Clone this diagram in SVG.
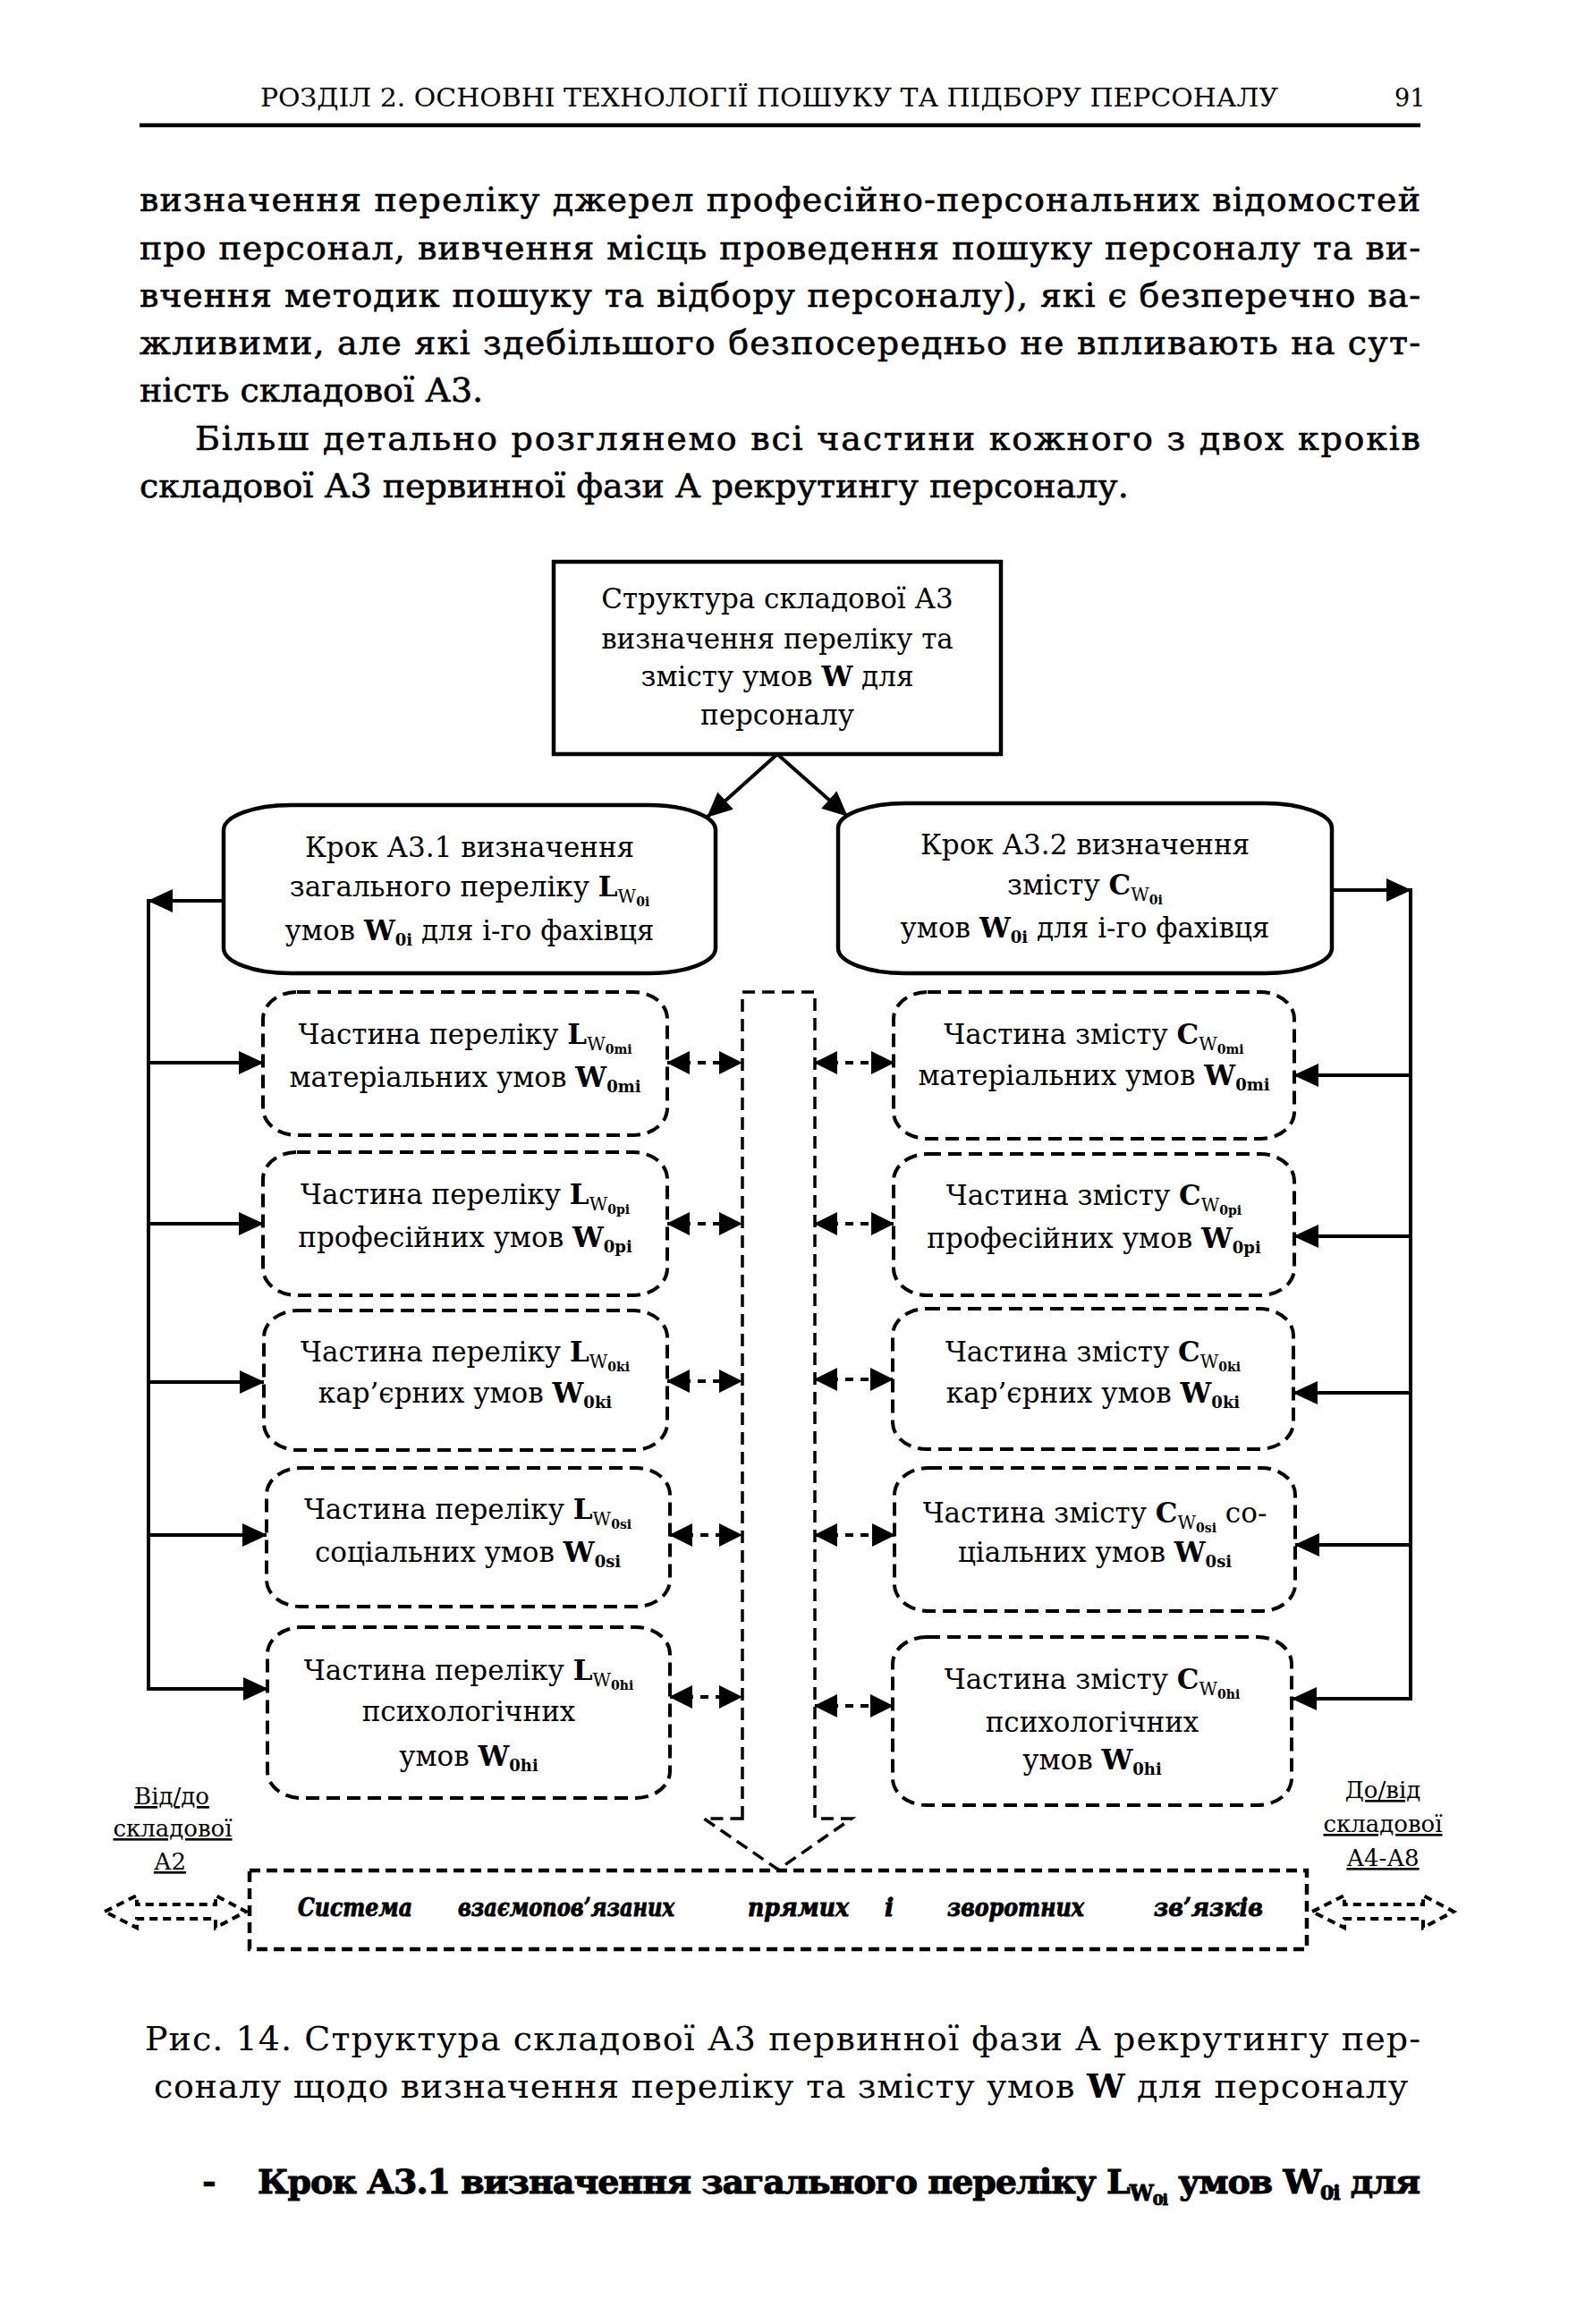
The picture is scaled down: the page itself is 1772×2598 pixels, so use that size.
<svg xmlns="http://www.w3.org/2000/svg" width="1772" height="2598" viewBox="0 0 1772 2598">
<defs>
<style>
.t{font-family:"DejaVu Serif","Liberation Serif",serif;fill:#000}
.body{font-size:38px;stroke:#000;stroke-width:0.6}
.hdr{font-size:27px}
.d{font-size:31px}
.cap{font-size:38px}
.b{font-weight:bold}
.lbl{font-size:26px;text-decoration:underline}
.bi{font-size:27px;font-weight:bold;font-style:italic;stroke:#000;stroke-width:0.9}
.solid{fill:#fff;stroke:#000;stroke-width:4.5}
.dash{fill:#fff;stroke:#000;stroke-width:4;stroke-dasharray:15,8}
.conn{fill:none;stroke:#000;stroke-width:4}
.dconn{fill:none;stroke:#000;stroke-width:4;stroke-dasharray:9,8}
.shaft{fill:none;stroke:#000;stroke-width:3.5;stroke-dasharray:14,8}
.bdash{fill:none;stroke:#000;stroke-width:4.5;stroke-dasharray:12,7}
.sdash{fill:none;stroke:#000;stroke-width:4;stroke-dasharray:9,6}
</style>
<marker id="ah" viewBox="0 0 28 26" refX="27" refY="13" markerWidth="28" markerHeight="26" markerUnits="userSpaceOnUse" orient="auto-start-reverse">
<path d="M0,0 L28,13 L0,26 z" fill="#000"/>
</marker>
<marker id="ah2" viewBox="0 0 26 26" refX="25" refY="13" markerWidth="26" markerHeight="26" markerUnits="userSpaceOnUse" orient="auto-start-reverse">
<path d="M0,0 L26,13 L0,26 z" fill="#000"/>
</marker>
</defs>
<rect width="1772" height="2598" fill="#fff"/>

<g id="page-text">
<text class="t hdr" x="291" y="119" textLength="1138" lengthAdjust="spacingAndGlyphs">РОЗДІЛ 2. ОСНОВНІ ТЕХНОЛОГІЇ ПОШУКУ ТА ПІДБОРУ ПЕРСОНАЛУ</text>
<text class="t hdr" x="1559" y="119">91</text>
<line x1="156" y1="140" x2="1588" y2="140" stroke="#000" stroke-width="4.5"/>
<text class="t body" x="156" y="236" textLength="1432" lengthAdjust="spacing">визначення переліку джерел професійно-персональних відомостей</text>
<text class="t body" x="156" y="290" textLength="1432" lengthAdjust="spacing">про персонал, вивчення місць проведення пошуку персоналу та ви-</text>
<text class="t body" x="156" y="343" textLength="1432" lengthAdjust="spacing">вчення методик пошуку та відбору персоналу), які є безперечно ва-</text>
<text class="t body" x="156" y="396" textLength="1432" lengthAdjust="spacing">жливими, але які здебільшого безпосередньо не впливають на сут-</text>
<text class="t body" x="156" y="449">ність складової А3.</text>
<text class="t body" x="218" y="503" textLength="1370" lengthAdjust="spacing">Більш детально розглянемо всі частини кожного з двох кроків</text>
<text class="t body" x="156" y="556">складової А3 первинної фази А рекрутингу персоналу.</text>
<text class="t cap" x="162" y="2292" textLength="1426" lengthAdjust="spacing">Рис. 14. Структура складової А3 первинної фази А рекрутингу пер-</text>
<text class="t cap" x="172" y="2345" textLength="1402" lengthAdjust="spacing">соналу щодо визначення переліку та змісту умов <tspan class="b">W</tspan> для персоналу</text>
<text class="t body b" x="226" y="2452">-</text>
<text class="t body b" x="288" y="2452" textLength="1300" lengthAdjust="spacing" style="stroke-width:1">Крок А3.1 визначення загального переліку L<tspan font-size="24" dy="8">W</tspan><tspan font-size="17" dy="5">0i</tspan><tspan dy="-13"> умов W</tspan><tspan font-size="22" dy="7">0i</tspan><tspan dy="-7"> для</tspan></text>
</g>

<g id="connectors">
<line class="conn" x1="869" y1="843" x2="791" y2="913" marker-end="url(#ah)"/>
<line class="conn" x1="869" y1="843" x2="947" y2="912" marker-end="url(#ah)"/>
<polyline class="conn" points="250,1007 166,1007" marker-end="url(#ah)"/>
<line class="conn" x1="166" y1="1005" x2="166" y2="1890"/>
<line class="conn" x1="166" y1="1188" x2="294" y2="1188" marker-end="url(#ah)"/>
<line class="conn" x1="166" y1="1368" x2="294" y2="1368" marker-end="url(#ah)"/>
<line class="conn" x1="166" y1="1545" x2="295" y2="1545" marker-end="url(#ah)"/>
<line class="conn" x1="166" y1="1716" x2="298" y2="1716" marker-end="url(#ah)"/>
<line class="conn" x1="166" y1="1888" x2="299" y2="1888" marker-end="url(#ah)"/>
<line class="conn" x1="1490" y1="995" x2="1577" y2="995" marker-end="url(#ah)"/>
<line class="conn" x1="1577" y1="993" x2="1577" y2="1901"/>
<line class="conn" x1="1577" y1="1202" x2="1447" y2="1202" marker-end="url(#ah)"/>
<line class="conn" x1="1577" y1="1382" x2="1447" y2="1382" marker-end="url(#ah)"/>
<line class="conn" x1="1577" y1="1557" x2="1446" y2="1557" marker-end="url(#ah)"/>
<line class="conn" x1="1577" y1="1727" x2="1448" y2="1727" marker-end="url(#ah)"/>
<line class="conn" x1="1577" y1="1899" x2="1445" y2="1899" marker-end="url(#ah)"/>
<line class="dconn" x1="746" y1="1188" x2="829" y2="1188" marker-start="url(#ah2)" marker-end="url(#ah2)"/>
<line class="dconn" x1="746" y1="1368" x2="829" y2="1368" marker-start="url(#ah2)" marker-end="url(#ah2)"/>
<line class="dconn" x1="746" y1="1544" x2="829" y2="1544" marker-start="url(#ah2)" marker-end="url(#ah2)"/>
<line class="dconn" x1="749" y1="1716" x2="829" y2="1716" marker-start="url(#ah2)" marker-end="url(#ah2)"/>
<line class="dconn" x1="749" y1="1897" x2="829" y2="1897" marker-start="url(#ah2)" marker-end="url(#ah2)"/>
<line class="dconn" x1="911" y1="1188" x2="999" y2="1188" marker-start="url(#ah2)" marker-end="url(#ah2)"/>
<line class="dconn" x1="911" y1="1368" x2="999" y2="1368" marker-start="url(#ah2)" marker-end="url(#ah2)"/>
<line class="dconn" x1="911" y1="1542" x2="998" y2="1542" marker-start="url(#ah2)" marker-end="url(#ah2)"/>
<line class="dconn" x1="911" y1="1716" x2="1000" y2="1716" marker-start="url(#ah2)" marker-end="url(#ah2)"/>
<line class="dconn" x1="911" y1="1907" x2="998" y2="1907" marker-start="url(#ah2)" marker-end="url(#ah2)"/>
<path class="shaft" d="M830,2033 L830,1109 L911,1109 L911,2033 L952,2033 L870,2090 L787,2033 Z"/>
<path class="sdash" d="M117,2137 L153,2119 L153,2129 L241,2129 L241,2119 L275,2137 L241,2155 L241,2145 L153,2145 L153,2155 Z"/>
<path class="sdash" d="M1467,2137 L1503,2119 L1503,2129 L1591,2129 L1591,2119 L1625,2137 L1591,2155 L1591,2145 L1503,2145 L1503,2155 Z"/>
</g>

<g id="node-top">
<rect class="solid" x="619" y="628" width="500" height="215"/>
<text class="t d" text-anchor="middle" x="869" y="680">Структура складової А3</text>
<text class="t d" text-anchor="middle" x="869" y="725">визначення переліку та</text>
<text class="t d" text-anchor="middle" x="869" y="767">змісту умов <tspan class="b">W</tspan> для</text>
<text class="t d" text-anchor="middle" x="869" y="810">персоналу</text>
</g>

<g id="node-step1">
<rect class="solid" x="250" y="900" width="550" height="188" rx="75" ry="28"/>
<text class="t d" text-anchor="middle" x="525" y="958">Крок А3.1 визначення</text>
<text class="t d" text-anchor="middle" x="525" y="1002">загального переліку <tspan class="b">L</tspan><tspan font-size="20" dy="7">W</tspan><tspan class="b" font-size="14" dy="4">0i</tspan></text>
<text class="t d" text-anchor="middle" x="525" y="1051">умов <tspan class="b">W</tspan><tspan class="b" font-size="18" dy="6">0i</tspan><tspan dy="-6"> для і-го фахівця</tspan></text>
</g>

<g id="node-step2">
<rect class="solid" x="937" y="898" width="552" height="190" rx="75" ry="28"/>
<text class="t d" text-anchor="middle" x="1213" y="955">Крок А3.2 визначення</text>
<text class="t d" text-anchor="middle" x="1213" y="1000">змісту <tspan class="b">C</tspan><tspan font-size="20" dy="7">W</tspan><tspan class="b" font-size="14" dy="4">0i</tspan></text>
<text class="t d" text-anchor="middle" x="1213" y="1048">умов <tspan class="b">W</tspan><tspan class="b" font-size="18" dy="6">0i</tspan><tspan dy="-6"> для і-го фахівця</tspan></text>
</g>

<g id="node-L1">
<rect class="dash" x="294" y="1109" width="452" height="160" rx="38" ry="30"/>
<text class="t d" text-anchor="middle" x="520" y="1167">Частина переліку <tspan class="b">L</tspan><tspan font-size="20" dy="7">W</tspan><tspan class="b" font-size="14" dy="4">0mi</tspan></text>
<text class="t d" text-anchor="middle" x="520" y="1215">матеріальних умов <tspan class="b">W</tspan><tspan class="b" font-size="18" dy="6">0mi</tspan></text>
</g>
<g id="node-L2">
<rect class="dash" x="294" y="1288" width="452" height="160" rx="38" ry="30"/>
<text class="t d" text-anchor="middle" x="520" y="1346">Частина переліку <tspan class="b">L</tspan><tspan font-size="20" dy="7">W</tspan><tspan class="b" font-size="14" dy="4">0pi</tspan></text>
<text class="t d" text-anchor="middle" x="520" y="1394">професійних умов <tspan class="b">W</tspan><tspan class="b" font-size="18" dy="6">0pi</tspan></text>
</g>
<g id="node-L3">
<rect class="dash" x="295" y="1465" width="451" height="156" rx="38" ry="30"/>
<text class="t d" text-anchor="middle" x="520" y="1522">Частина переліку <tspan class="b">L</tspan><tspan font-size="20" dy="7">W</tspan><tspan class="b" font-size="14" dy="4">0ki</tspan></text>
<text class="t d" text-anchor="middle" x="520" y="1568">кар’єрних умов <tspan class="b">W</tspan><tspan class="b" font-size="18" dy="6">0ki</tspan></text>
</g>
<g id="node-L4">
<rect class="dash" x="298" y="1641" width="451" height="155" rx="38" ry="30"/>
<text class="t d" text-anchor="middle" x="523" y="1698">Частина переліку <tspan class="b">L</tspan><tspan font-size="20" dy="7">W</tspan><tspan class="b" font-size="14" dy="4">0si</tspan></text>
<text class="t d" text-anchor="middle" x="523" y="1746">соціальних умов <tspan class="b">W</tspan><tspan class="b" font-size="18" dy="6">0si</tspan></text>
</g>
<g id="node-L5">
<rect class="dash" x="299" y="1819" width="450" height="191" rx="38" ry="30"/>
<text class="t d" text-anchor="middle" x="524" y="1878">Частина переліку <tspan class="b">L</tspan><tspan font-size="20" dy="7">W</tspan><tspan class="b" font-size="14" dy="4">0hi</tspan></text>
<text class="t d" text-anchor="middle" x="524" y="1924">психологічних</text>
<text class="t d" text-anchor="middle" x="524" y="1974">умов <tspan class="b">W</tspan><tspan class="b" font-size="18" dy="6">0hi</tspan></text>
</g>

<g id="node-R1">
<rect class="dash" x="999" y="1109" width="448" height="164" rx="38" ry="30"/>
<text class="t d" text-anchor="middle" x="1223" y="1167">Частина змісту <tspan class="b">C</tspan><tspan font-size="20" dy="7">W</tspan><tspan class="b" font-size="14" dy="4">0mi</tspan></text>
<text class="t d" text-anchor="middle" x="1223" y="1213">матеріальних умов <tspan class="b">W</tspan><tspan class="b" font-size="18" dy="6">0mi</tspan></text>
</g>
<g id="node-R2">
<rect class="dash" x="999" y="1290" width="448" height="158" rx="38" ry="30"/>
<text class="t d" text-anchor="middle" x="1223" y="1347">Частина змісту <tspan class="b">C</tspan><tspan font-size="20" dy="7">W</tspan><tspan class="b" font-size="14" dy="4">0pi</tspan></text>
<text class="t d" text-anchor="middle" x="1223" y="1395">професійних умов <tspan class="b">W</tspan><tspan class="b" font-size="18" dy="6">0pi</tspan></text>
</g>
<g id="node-R3">
<rect class="dash" x="998" y="1463" width="448" height="157" rx="38" ry="30"/>
<text class="t d" text-anchor="middle" x="1222" y="1522">Частина змісту <tspan class="b">C</tspan><tspan font-size="20" dy="7">W</tspan><tspan class="b" font-size="14" dy="4">0ki</tspan></text>
<text class="t d" text-anchor="middle" x="1222" y="1568">кар’єрних умов <tspan class="b">W</tspan><tspan class="b" font-size="18" dy="6">0ki</tspan></text>
</g>
<g id="node-R4">
<rect class="dash" x="1000" y="1641" width="448" height="160" rx="38" ry="30"/>
<text class="t d" text-anchor="middle" x="1224" y="1702">Частина змісту <tspan class="b">C</tspan><tspan font-size="20" dy="7">W</tspan><tspan class="b" font-size="14" dy="4">0si</tspan><tspan dy="-11"> со-</tspan></text>
<text class="t d" text-anchor="middle" x="1224" y="1746">ціальних умов <tspan class="b">W</tspan><tspan class="b" font-size="18" dy="6">0si</tspan></text>
</g>
<g id="node-R5">
<rect class="dash" x="998" y="1830" width="446" height="188" rx="38" ry="30"/>
<text class="t d" text-anchor="middle" x="1221" y="1888">Частина змісту <tspan class="b">C</tspan><tspan font-size="20" dy="7">W</tspan><tspan class="b" font-size="14" dy="4">0hi</tspan></text>
<text class="t d" text-anchor="middle" x="1221" y="1936">психологічних</text>
<text class="t d" text-anchor="middle" x="1221" y="1978">умов <tspan class="b">W</tspan><tspan class="b" font-size="18" dy="6">0hi</tspan></text>
</g>

<g id="node-system">
<rect class="bdash" x="279" y="2091" width="1182" height="88"/>
<text class="t bi" x="333" y="2142" textLength="128" lengthAdjust="spacingAndGlyphs">Система</text>
<text class="t bi" x="512" y="2142" textLength="242" lengthAdjust="spacingAndGlyphs">взаємопов’язаних</text>
<text class="t bi" x="836" y="2142" textLength="113" lengthAdjust="spacingAndGlyphs">прямих</text>
<text class="t bi" x="989" y="2142">і</text>
<text class="t bi" x="1059" y="2142" textLength="153" lengthAdjust="spacingAndGlyphs">зворотних</text>
<text class="t bi" x="1290" y="2142" textLength="122" lengthAdjust="spacingAndGlyphs">зв’язків</text>
</g>

<g id="label-left">
<text class="t lbl" text-anchor="middle" x="192" y="2017">Від/до</text>
<text class="t lbl" text-anchor="middle" x="193" y="2053">складової</text>
<text class="t lbl" text-anchor="middle" x="190" y="2090">А2</text>
</g>
<g id="label-right">
<text class="t lbl" text-anchor="middle" x="1546" y="2010">До/від</text>
<text class="t lbl" text-anchor="middle" x="1546" y="2048">складової</text>
<text class="t lbl" text-anchor="middle" x="1546" y="2086">А4-А8</text>
</g>
</svg>
